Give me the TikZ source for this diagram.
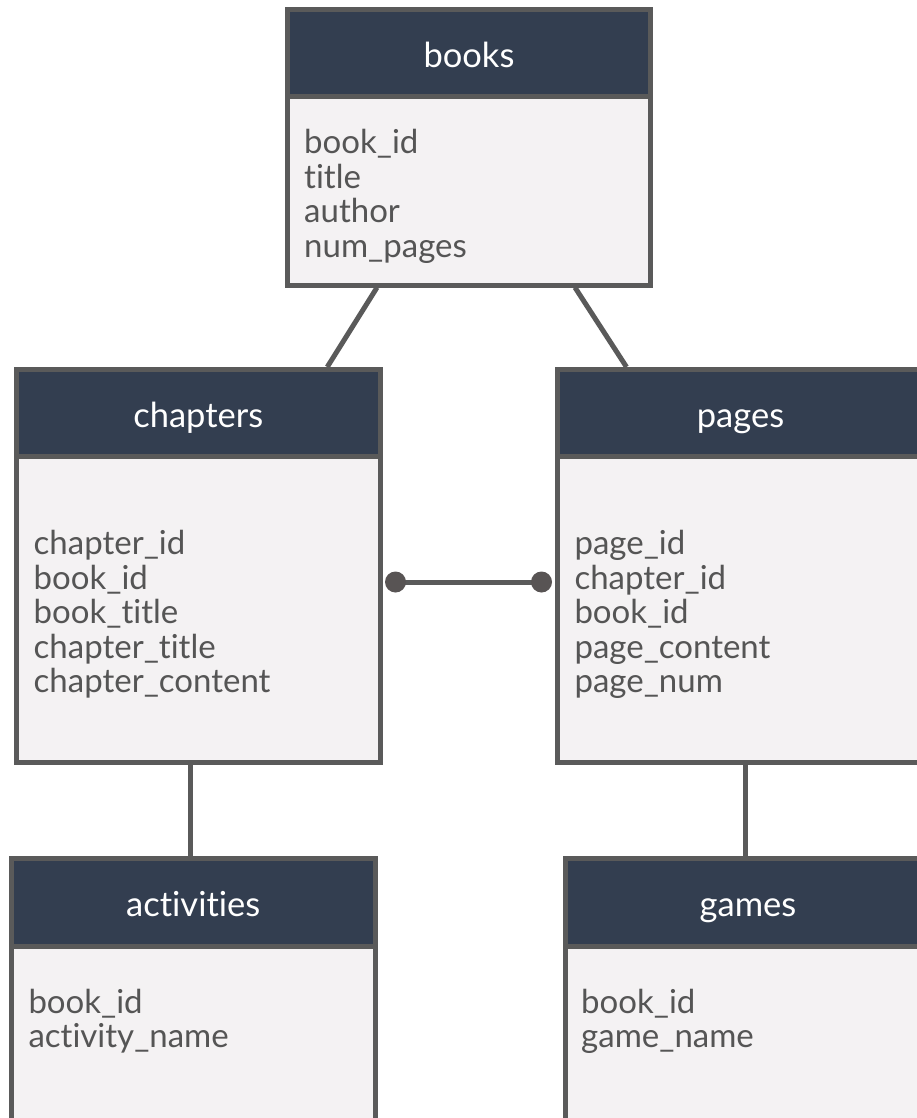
\documentclass[tikz,border=0pt]{standalone}
\usepackage{fontspec}
\setmainfont{Lato}[Ligatures={NoCommon}]
\usetikzlibrary{calc}
\definecolor{hdr}{RGB}{51,62,80}
\definecolor{bodyfill}{RGB}{244,242,243}
\definecolor{edge}{RGB}{90,90,90}
\definecolor{txt}{RGB}{85,85,85}
\definecolor{dotc}{RGB}{88,84,84}
\newcommand{\erfont}{\fontsize{33}{34}\selectfont}
\newcommand{\erhfont}{\fontsize{34.5}{36}\selectfont}
\tikzset{
  hdrbox/.style={draw=edge, line width=5pt, fill=hdr, text=white, inner sep=0pt,
    minimum height=87pt, text height=28pt, text depth=0pt, font=\erhfont},
  bodybox/.style={draw=edge, line width=5pt, fill=bodyfill, inner sep=0pt},
  field/.style={anchor=base west, inner sep=0pt, text=txt, font=\erfont},
  conn/.style={draw=edge, line width=5pt},
  enddot/.style={fill=dotc},
}
\begin{document}
\begin{tikzpicture}[x=1pt,y=-1pt]
\useasboundingbox (0,0) rectangle (917,1118);
\clip (0,0) rectangle (917,1118);
\fill[white] (0,0) rectangle (917,1118);

% books
\node[hdrbox, minimum width=363pt] (bh) at (469,53.5) {books};
\node[bodybox, minimum width=363pt, minimum height=188pt] (bb) at (469,191) {};
\foreach \t [count=\i] in {book\_id,title,author,num\_pages}
  \node[field] (bf\i) at (304,{153.7+34.5*(\i-1)}) {\t};

% chapters
\node[hdrbox, minimum width=363.5pt] (ch) at (198.25,413) {chapters};
\node[bodybox, minimum width=363.5pt, minimum height=305.5pt] (cb) at (198.25,609.25) {};
\foreach \t [count=\i] in {chapter\_id,book\_id,book\_title,chapter\_title,chapter\_content}
  \node[field] (cf\i) at (33.5,{554.7+34.5*(\i-1)}) {\t};

% pages
\node[hdrbox, minimum width=366pt] (ph) at (740.5,413) {pages};
\node[bodybox, minimum width=366pt, minimum height=305.5pt] (pb) at (740.5,609.25) {};
\foreach \t [count=\i] in {page\_id,chapter\_id,book\_id,page\_content,page\_num}
  \node[field] (pf\i) at (574.3,{554.7+34.5*(\i-1)}) {\t};

% activities
\node[hdrbox, minimum width=363.5pt, minimum height=88pt] (ah) at (193.25,902) {activities};
\node[bodybox, minimum width=363.5pt, minimum height=254pt] (ab) at (193.25,1073) {};
\foreach \t [count=\i] in {book\_id,activity\_name}
  \node[field] (af\i) at (28.3,{1013.2+34*(\i-1)}) {\t};

% games
\node[hdrbox, minimum width=366pt, minimum height=88pt] (gh) at (748,902) {games};
\node[bodybox, minimum width=366pt, minimum height=254pt] (gb) at (748,1073) {};
\foreach \t [count=\i] in {book\_id,game\_name}
  \node[field] (gf\i) at (581,{1013.2+34*(\i-1)}) {\t};

% connectors
\draw[conn] ([xshift=-92pt]bb.south) -- ([xshift=129pt]ch.north);
\draw[conn] ([xshift=106pt]bb.south) -- ([xshift=-114pt]ph.north);
\coordinate (ca) at ([xshift=-7.5pt]cb.south);
\coordinate (pg) at ([xshift=4.5pt]pb.south);
\draw[conn] (ca) -- (ah.north -| ca);
\draw[conn] (pg) -- (gh.north -| pg);
\coordinate (d1) at ([shift={(13pt,27.25pt)}]cb.east);
\coordinate (d2) at ([shift={(-13.5pt,27.25pt)}]pb.west);
\draw[conn] (d1) -- (d2);
\fill[enddot] (d1) circle (10.5pt);
\fill[enddot] (d2) circle (10.5pt);
\end{tikzpicture}
\end{document}
